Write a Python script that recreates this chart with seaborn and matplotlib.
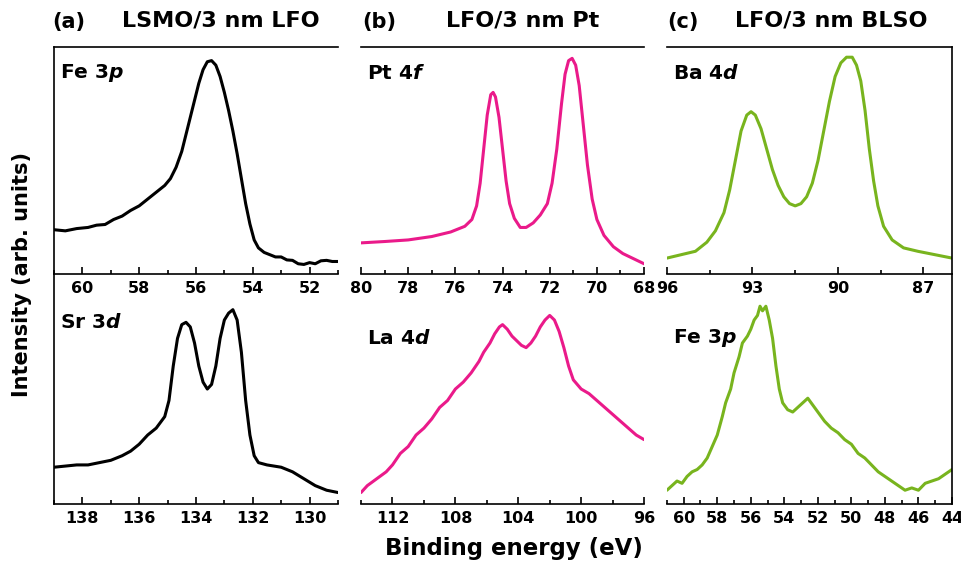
import numpy as np
import pandas as pd
import matplotlib
matplotlib.use("Agg")
import matplotlib.pyplot as plt
from matplotlib.ticker import MultipleLocator, FormatStrFormatter
import seaborn as sns

# ---- data (normalised intensity, 0..1 per panel) ----
fe3p_lsmo_be = [61.0, 60.6, 60.2, 59.8, 59.5, 59.2, 58.9, 58.6, 58.3, 58.0, 57.7, 57.4, 57.1,
                56.9, 56.7, 56.5, 56.3, 56.1, 55.9, 55.75, 55.6, 55.45, 55.3, 55.15, 55.0,
                54.85, 54.7, 54.55, 54.4, 54.25, 54.1, 53.95, 53.8, 53.6, 53.4, 53.2, 53.0,
                52.8, 52.6, 52.4, 52.2, 52.0, 51.8, 51.6, 51.4, 51.2, 51.0]
fe3p_lsmo_int = [0.195, 0.19, 0.2, 0.205, 0.215, 0.218, 0.24, 0.255, 0.28, 0.3, 0.33, 0.36, 0.39,
                 0.42, 0.47, 0.54, 0.64, 0.74, 0.84, 0.9, 0.935, 0.94, 0.92, 0.87, 0.8,
                 0.72, 0.63, 0.53, 0.42, 0.31, 0.22, 0.15, 0.115, 0.095, 0.085, 0.075, 0.075,
                 0.062, 0.06, 0.045, 0.042, 0.05, 0.045, 0.058, 0.06, 0.055, 0.055]

sr3d_be = [139.0, 138.6, 138.2, 137.8, 137.4, 137.0, 136.6, 136.3, 136.0, 135.7, 135.4, 135.1,
           134.95, 134.8, 134.65, 134.5, 134.35, 134.2, 134.05, 133.9, 133.75, 133.6, 133.45,
           133.3, 133.15, 133.0, 132.85, 132.7, 132.55, 132.4, 132.25, 132.1, 131.95, 131.8,
           131.5, 131.0, 130.6, 130.2, 129.8, 129.4, 129.0]
sr3d_int = [0.16, 0.165, 0.17, 0.17, 0.18, 0.19, 0.21, 0.23, 0.26, 0.3, 0.33, 0.38,
            0.45, 0.6, 0.72, 0.78, 0.79, 0.77, 0.7, 0.6, 0.53, 0.5, 0.52,
            0.6, 0.72, 0.8, 0.83, 0.845, 0.8, 0.66, 0.45, 0.3, 0.21, 0.18,
            0.17, 0.16, 0.14, 0.11, 0.08, 0.06, 0.05]

pt4f_be = [80.0, 79.0, 78.0, 77.0, 76.2, 75.6, 75.3, 75.1, 74.95, 74.8, 74.65, 74.5, 74.4,
           74.3, 74.15, 74.0, 73.85, 73.7, 73.5, 73.25, 73.0, 72.7, 72.4, 72.1, 71.9, 71.7,
           71.5, 71.35, 71.2, 71.05, 70.9, 70.75, 70.6, 70.4, 70.2, 70.0, 69.7, 69.3, 68.9,
           68.5, 68.0]
pt4f_int = [0.137, 0.143, 0.15, 0.165, 0.185, 0.21, 0.24, 0.3, 0.4, 0.55, 0.7, 0.79, 0.8,
            0.78, 0.69, 0.55, 0.41, 0.31, 0.245, 0.205, 0.205, 0.225, 0.26, 0.31, 0.4, 0.55,
            0.75, 0.88, 0.94, 0.95, 0.92, 0.83, 0.68, 0.48, 0.33, 0.24, 0.17, 0.12, 0.09,
            0.07, 0.045]

la4d_be = [114.0, 113.6, 113.2, 112.8, 112.4, 112.0, 111.5, 111.0, 110.5, 110.0, 109.5, 109.0,
           108.5, 108.0, 107.5, 107.0, 106.5, 106.2, 105.8, 105.5, 105.2, 105.0, 104.7, 104.4,
           104.1, 103.8, 103.5, 103.2, 102.9, 102.6, 102.3, 102.0, 101.7, 101.4, 101.1, 100.8,
           100.5, 100.0, 99.5, 99.0, 98.5, 98.0, 97.5, 97.0, 96.5, 96.0]
la4d_int = [0.05, 0.08, 0.1, 0.12, 0.14, 0.17, 0.22, 0.25, 0.3, 0.33, 0.37, 0.42,
            0.45, 0.5, 0.53, 0.57, 0.62, 0.66, 0.7, 0.74, 0.77, 0.78, 0.76, 0.73,
            0.71, 0.69, 0.68, 0.7, 0.73, 0.77, 0.8, 0.82, 0.8, 0.75, 0.68, 0.6,
            0.54, 0.5, 0.48, 0.45, 0.42, 0.39, 0.36, 0.33, 0.3, 0.28]

ba4d_be = [96.0, 95.5, 95.0, 94.6, 94.3, 94.0, 93.8, 93.6, 93.4, 93.2, 93.05, 92.9, 92.7, 92.5,
           92.3, 92.1, 91.9, 91.7, 91.5, 91.3, 91.1, 90.9, 90.7, 90.5, 90.3, 90.1, 89.9, 89.7,
           89.5, 89.35, 89.2, 89.05, 88.9, 88.75, 88.6, 88.4, 88.1, 87.7, 87.2, 86.6, 86.0]
ba4d_int = [0.07, 0.085, 0.1, 0.14, 0.19, 0.27, 0.37, 0.5, 0.63, 0.7, 0.715, 0.7, 0.64, 0.55,
            0.46, 0.39, 0.34, 0.31, 0.3, 0.31, 0.34, 0.4, 0.5, 0.63, 0.76, 0.87, 0.93, 0.955,
            0.955, 0.92, 0.85, 0.72, 0.55, 0.41, 0.3, 0.21, 0.15, 0.115, 0.1, 0.085, 0.07]

fe3p_blso_be = [61.0, 60.7, 60.4, 60.1, 59.8, 59.5, 59.2, 58.9, 58.6, 58.3, 58.0, 57.7, 57.5,
                57.2, 57.0, 56.7, 56.5, 56.2, 56.0, 55.8, 55.6, 55.45, 55.3, 55.1, 54.9, 54.7,
                54.5, 54.3, 54.1, 53.8, 53.5, 53.2, 52.9, 52.6, 52.3, 52.0, 51.6, 51.2, 50.8,
                50.4, 50.0, 49.6, 49.2, 48.8, 48.4, 48.0, 47.6, 47.2, 46.8, 46.4, 46.0, 45.6,
                45.2, 44.8, 44.4, 44.0]
fe3p_blso_int = [0.06, 0.08, 0.1, 0.09, 0.12, 0.14, 0.15, 0.17, 0.2, 0.25, 0.3, 0.38, 0.44,
                 0.5, 0.57, 0.64, 0.7, 0.73, 0.76, 0.8, 0.82, 0.86, 0.84, 0.86, 0.8, 0.72,
                 0.6, 0.5, 0.44, 0.41, 0.4, 0.42, 0.44, 0.46, 0.43, 0.4, 0.36, 0.33, 0.31,
                 0.28, 0.26, 0.22, 0.2, 0.17, 0.14, 0.12, 0.1, 0.08, 0.06, 0.07, 0.06, 0.09,
                 0.1, 0.11, 0.13, 0.15]

panels = [
    # (energy, intensity, colour, label, xlim, major, minor, label y)
    (fe3p_lsmo_be, fe3p_lsmo_int, "black", r"Fe 3$\mathbfit{p}$", (61, 51), 2, 1, 0.885),
    (pt4f_be, pt4f_int, "#ea1a8a", r"Pt 4$\mathbfit{f}$", (80, 68), 2, 1, 0.885),
    (ba4d_be, ba4d_int, "#78b41e", r"Ba 4$\mathbfit{d}$", (96, 86), 3, 1.5, 0.885),
    (sr3d_be, sr3d_int, "black", r"Sr 3$\mathbfit{d}$", (139, 129), 2, 1, 0.79),
    (la4d_be, la4d_int, "#ea1a8a", r"La 4$\mathbfit{d}$", (114, 96), 4, 2, 0.72),
    (fe3p_blso_be, fe3p_blso_int, "#78b41e", r"Fe 3$\mathbfit{p}$", (61, 44), 2, 1, 0.72),
]

sns.set_style("white")
plt.rcParams["font.family"] = ["DejaVu Sans"]
plt.rcParams["font.weight"] = "bold"
plt.rcParams["text.color"] = "black"
plt.rcParams["xtick.color"] = "black"
plt.rcParams["mathtext.fontset"] = "custom"
plt.rcParams["mathtext.rm"] = "DejaVu Sans:bold"
plt.rcParams["mathtext.bf"] = "DejaVu Sans:bold"
plt.rcParams["mathtext.it"] = "DejaVu Sans:italic:bold"
plt.rcParams["mathtext.bfit"] = "DejaVu Sans:italic:bold"

fig = plt.figure(figsize=(9.62, 5.69), dpi=100)

col_x = [0.0561, 0.3753, 0.6933]
col_w = [0.2952, 0.2942, 0.2963]
row_y = [0.5185, 0.1142]
row_h = [0.3989, 0.4042]

for i, (be, inten, color, label, xlim, major, minor, ly) in enumerate(panels):
    row, col = divmod(i, 3)
    ax = fig.add_axes([col_x[col], row_y[row], col_w[col], row_h[row]])
    df = pd.DataFrame({"BE": be, "I": inten})
    sns.lineplot(data=df, x="BE", y="I", color=color, lw=2.2, ax=ax, sort=False)
    ax.set_xlim(*xlim)
    ax.set_ylim(0, 1)
    ax.set_xlabel("")
    ax.set_ylabel("")
    ax.set_yticks([])
    ax.xaxis.set_major_locator(MultipleLocator(major))
    ax.xaxis.set_minor_locator(MultipleLocator(minor))
    ax.xaxis.set_major_formatter(FormatStrFormatter("%d"))
    ax.tick_params(axis="x", which="major", direction="in", length=5, width=1.2,
                   labelsize=11.5, pad=5, bottom=True, colors="black")
    ax.tick_params(axis="x", which="minor", direction="in", length=3, width=1.2, bottom=True)
    for t in ax.get_xticklabels():
        t.set_fontweight("bold")
    for s in ax.spines.values():
        s.set_linewidth(1.2)
        s.set_color("black")
    ax.spines["top"].set_visible(row == 0)
    ax.spines["left"].set_visible(col == 0)
    ax.spines["right"].set_visible(col == 2)
    ax.patch.set_alpha(0)
    ax.text(0.022, ly, label, transform=ax.transAxes, fontsize=14.5,
            fontweight="bold", va="center", ha="left")

# column titles
titles = [("(a)", 52, "LSMO/3 nm LFO", 221), ("(b)", 362, "LFO/3 nm Pt", 523),
          ("(c)", 667, "LFO/3 nm BLSO", 831)]
for tag, tx, name, nx in titles:
    fig.text(tx / 962, 1 - 22 / 569, tag, fontsize=15, fontweight="bold", va="center", ha="left")
    fig.text(nx / 962, 1 - 20 / 569, name, fontsize=16, fontweight="bold", va="center", ha="center")

fig.text(22 / 962, 0.517, "Intensity (arb. units)", rotation=90, fontsize=15,
         fontweight="bold", va="center", ha="center")
fig.text(514 / 962, 1 - 548 / 569, "Binding energy (eV)", fontsize=16.5,
         fontweight="bold", va="center", ha="center")

fig.savefig("out.png", dpi=100)
